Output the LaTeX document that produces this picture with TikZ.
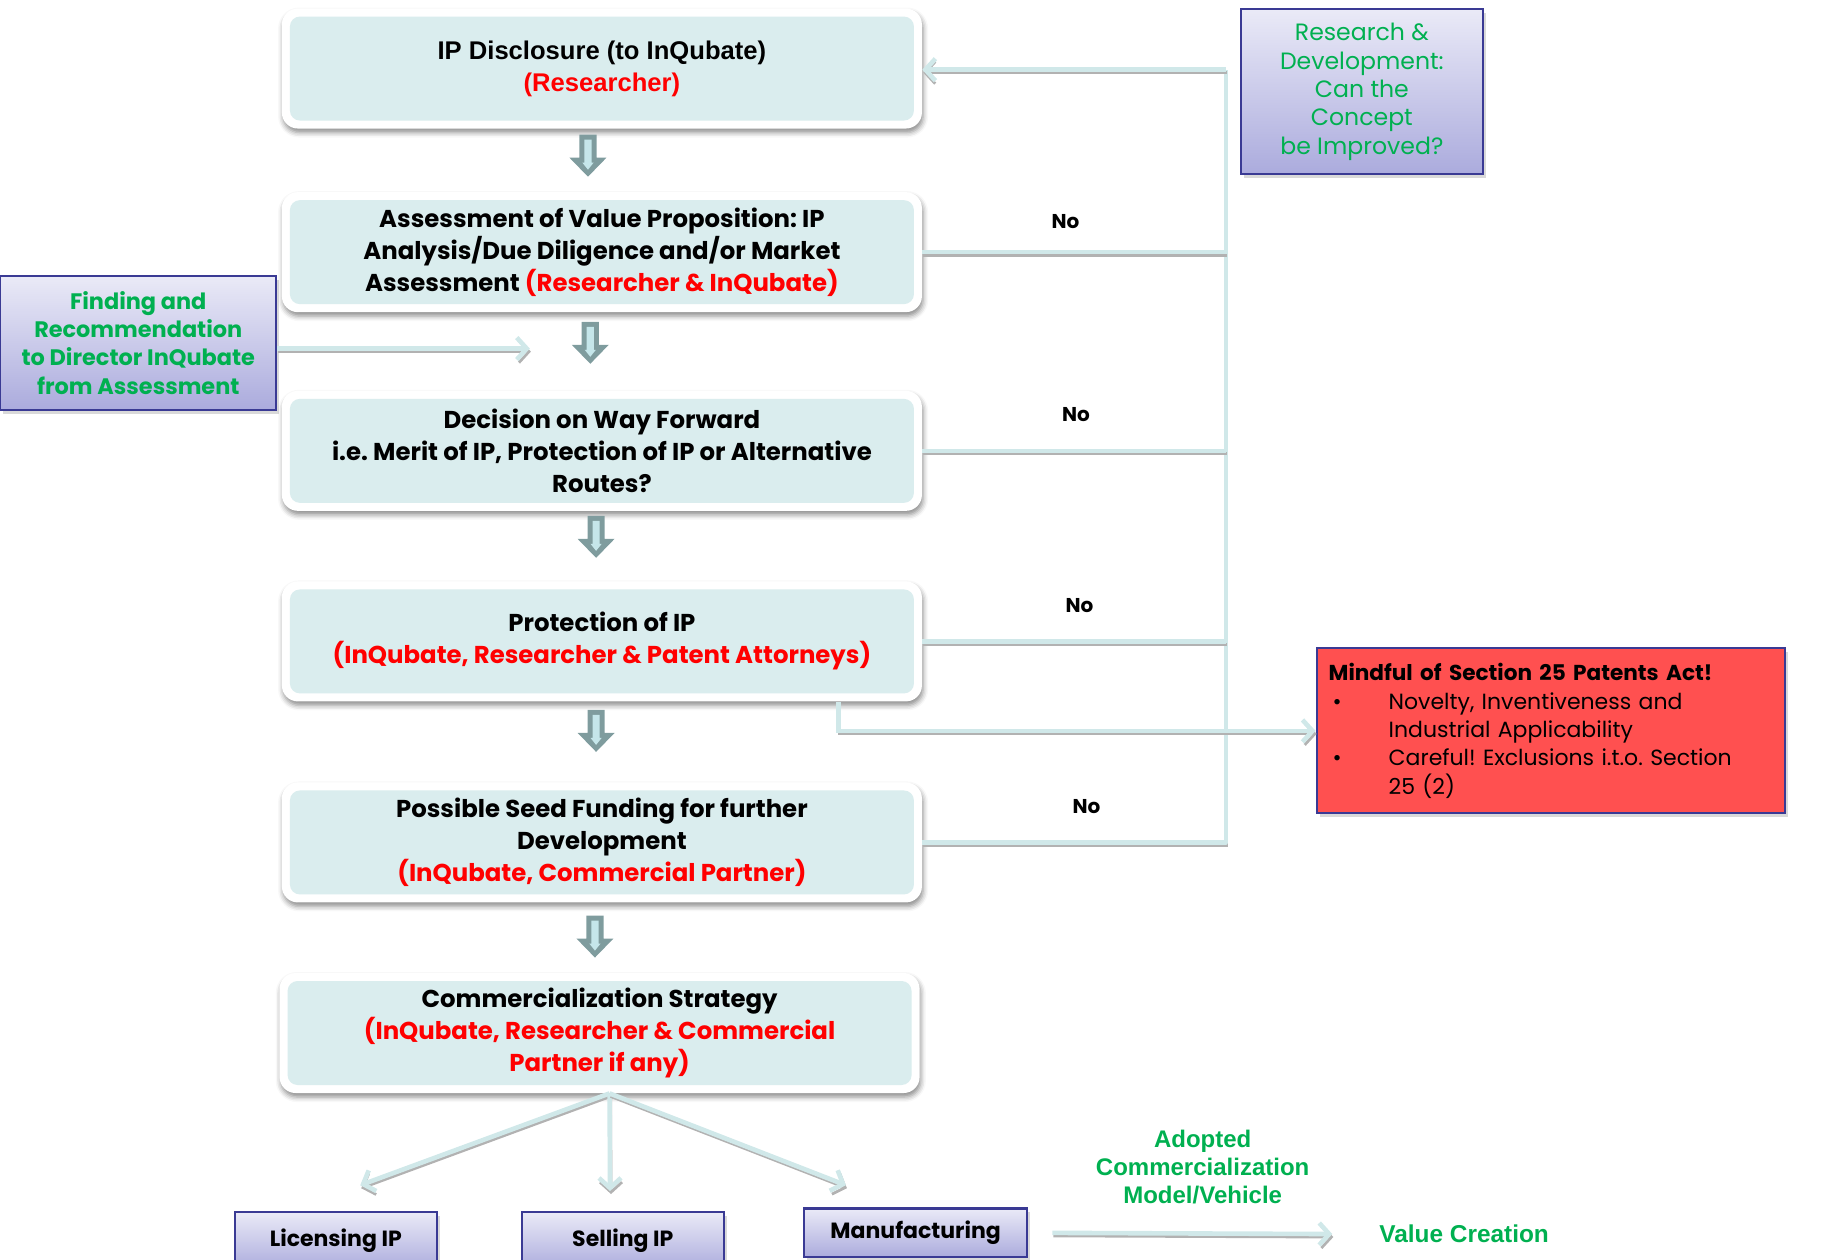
\documentclass[tikz,border=0pt]{standalone}
\usepackage{fontspec}
\setmainfont{Poppins}
\newfontfamily\arialf{Liberation Sans}
\usetikzlibrary{shadows,shadows.blur,arrows.meta,calc}
\definecolor{boxblue}{HTML}{DAEDEE}
\definecolor{linecol}{HTML}{D0E8E9}
\definecolor{arrowedge}{HTML}{7F9C9E}
\definecolor{arrowfill}{HTML}{C5E6EA}
\definecolor{navy}{HTML}{3A3A94}
\definecolor{pTop}{HTML}{EAEAF7}
\definecolor{pBot}{HTML}{ABABDD}
\definecolor{grn}{HTML}{00B050}
\definecolor{redtxt}{HTML}{FF0000}
\definecolor{alert}{HTML}{FF5050}
\frenchspacing
\begin{document}
\begin{tikzpicture}[x=0.581pt,y=-0.581pt,
 mainbox/.style={rectangle, rounded corners=8pt, fill=white,
   minimum width=320pt, minimum height=60pt, align=center, inner sep=2pt,
   font=\bfseries\fontsize{12.2}{16}\selectfont,
   blur shadow={shadow xshift=0.6pt, shadow yshift=-2pt, shadow blur radius=2.5pt, shadow opacity=45},
   path picture={\fill[boxblue, rounded corners=5pt]
     ([shift={(4pt,4pt)}]path picture bounding box.south west) rectangle
     ([shift={(-4pt,-4pt)}]path picture bounding box.north east);}},
 purplebox/.style={rectangle, draw=navy, line width=1.1pt, top color=pTop, bottom color=pBot,
   align=center, inner sep=2pt,
   drop shadow={shadow xshift=1.5pt, shadow yshift=-2pt, opacity=0.3}},
 lineshadow/.style={preaction={draw=black!30, line width=1.4pt, transform canvas={xshift=0.5pt,yshift=-1.5pt}}},
 conn/.style={lineshadow, draw=linecol, line width=2.3pt, -{Straight Barb[length=5pt,width=11pt]}},
 plainline/.style={lineshadow, draw=linecol, line width=2.3pt, line join=round},
 blockarrow/.pic={
   \fill[arrowedge] (-4.3pt,10.5pt) -- (4.3pt,10.5pt) -- (4.3pt,-1pt) -- (9.25pt,-1pt)
     -- (0pt,-10.5pt) -- (-9.25pt,-1pt) -- (-4.3pt,-1pt) -- cycle;
   \fill[arrowfill] (-1.8pt,8pt) -- (1.8pt,8pt) -- (1.8pt,-3.5pt) -- (2.8pt,-3.5pt)
     -- (0pt,-7pt) -- (-2.8pt,-3.5pt) -- (-1.8pt,-3.5pt) -- cycle;},
 nolab/.style={font=\bfseries\fontsize{10}{11}\selectfont},
]
\useasboundingbox (0,0) rectangle (1568,1084);

% main flow boxes
\node[mainbox, font=\arialf\bfseries\fontsize{12.8}{16}\selectfont] (box1) at (518,59)
  {IP Disclosure (to InQubate)\\ \textcolor{redtxt}{(Researcher)}};
\node[mainbox] (box2) at (518,217)
  {Assessment of Value Proposition: IP\\ Analysis/Due Diligence and/or Market\\ Assessment \textcolor{redtxt}{(Researcher \& InQubate)}};
\node[mainbox] (box3) at (518,388)
  {Decision on Way Forward\\ i.e. Merit of IP, Protection of IP or Alternative\\ Routes?};
\node[mainbox] (box4) at (518,552)
  {Protection of IP\\ \textcolor{redtxt}{(InQubate, Researcher \& Patent Attorneys)}};
\node[mainbox] (box5) at (518,725)
  {Possible Seed Funding for further\\ Development\\ \textcolor{redtxt}{(InQubate, Commercial Partner)}};
\node[mainbox] (box6) at (516,889)
  {Commercialization Strategy\\ \textcolor{redtxt}{(InQubate, Researcher \& Commercial}\\ \textcolor{redtxt}{Partner if any)}};

% block arrows between boxes
\pic (d1) at (506,134) {blockarrow};
\pic (d2) at (508,295) {blockarrow};
\pic (d3) at (513,462) {blockarrow};
\pic (d4) at (513,629) {blockarrow};
\pic (d5) at (512,806) {blockarrow};

% side boxes
\node[purplebox, minimum width=138pt, minimum height=67pt,
  font=\bfseries\fontsize{11.2}{14.2}\selectfont, text=grn] (find) at (119,295)
  {Finding and\\ Recommendation\\ to Director InQubate\\ from Assessment};
\node[purplebox, minimum width=121pt, minimum height=82.5pt,
  font=\fontsize{11.8}{14.2}\selectfont, text=grn] (rd) at (1172,79)
  {Research \&\\ Development:\\ Can the\\ Concept\\ be Improved?};
\node[rectangle, draw=navy, line width=1.1pt, fill=alert, minimum height=82.5pt,
  text width=222pt, inner xsep=6pt, align=left, font=\fontsize{11}{14.2}\selectfont,
  drop shadow={shadow xshift=1.5pt, shadow yshift=-2pt, opacity=0.3}] (mind) at (1334.5,629)
  {{\bfseries\fontsize{10.8}{14.2}\selectfont Mindful of Section 25 Patents Act!}\\
   \makebox[30pt][l]{\hspace{2pt}\textbullet}Novelty, Inventiveness and\\
   \hspace*{30pt}Industrial Applicability\\
   \makebox[30pt][l]{\hspace{2pt}\textbullet}Careful! Exclusions i.t.o. Section\\
   \hspace*{30pt}25 (2)};

% bottom boxes
\node[purplebox, minimum width=101pt, minimum height=29pt,
  font=\bfseries\fontsize{11}{12}\selectfont] (lic) at (289,1068) {Licensing IP};
\node[purplebox, minimum width=101pt, minimum height=29pt,
  font=\bfseries\fontsize{11}{12}\selectfont] (sell) at (536,1068) {Selling IP};
\node[purplebox, minimum width=111.5pt, minimum height=24.4pt,
  font=\bfseries\fontsize{11}{12}\selectfont] (manu) at (788,1061) {Manufacturing};

% labels
\node[nolab] (no1) at (917,191) {No};
\node[nolab] (no2) at (926,357) {No};
\node[nolab] (no3) at (929,521) {No};
\node[nolab] (no4) at (935,694) {No};
\node[align=center, text=grn, font=\arialf\bfseries\fontsize{12}{14}\selectfont] (adopt) at (1035,1004)
  {Adopted\\ Commercialization\\ Model/Vehicle};
\node[text=grn, font=\arialf\bfseries\fontsize{12.2}{13}\selectfont] (value) at (1260,1062) {Value Creation};

% coordinates
\coordinate (fbtop) at (1055,60);
\coordinate (fbbot) at (1055,725);
\coordinate (findtip) at (456,300);
\coordinate (splitA) at (310,1020);
\coordinate (splitB) at (525,1025);
\coordinate (splitC) at (728,1020);

% feedback loop
\draw[plainline] (box5.east) -- (fbbot) -- (fbtop);
\draw[conn] (fbtop) -- (box1.east |- fbtop);
\draw[plainline] (box2.east) -- (box2.east -| fbtop);
\draw[plainline] (box3.east) -- (box3.east -| fbtop);
\draw[plainline] (box4.east) -- (box4.east -| fbtop);

% other connectors
\draw[conn] (find.east |- findtip) -- (findtip);
\draw[conn] ([xshift=-42pt]box4.south east) |- (mind.west);
\draw[conn] ([xshift=5pt]box6.south) -- (splitA);
\draw[conn] ([xshift=5pt]box6.south) -- (splitB);
\draw[conn] ([xshift=5pt]box6.south) -- (splitC);
\draw[conn] ([xshift=12pt]manu.east) -- ([xshift=-20pt]value.west);
\end{tikzpicture}
\end{document}
